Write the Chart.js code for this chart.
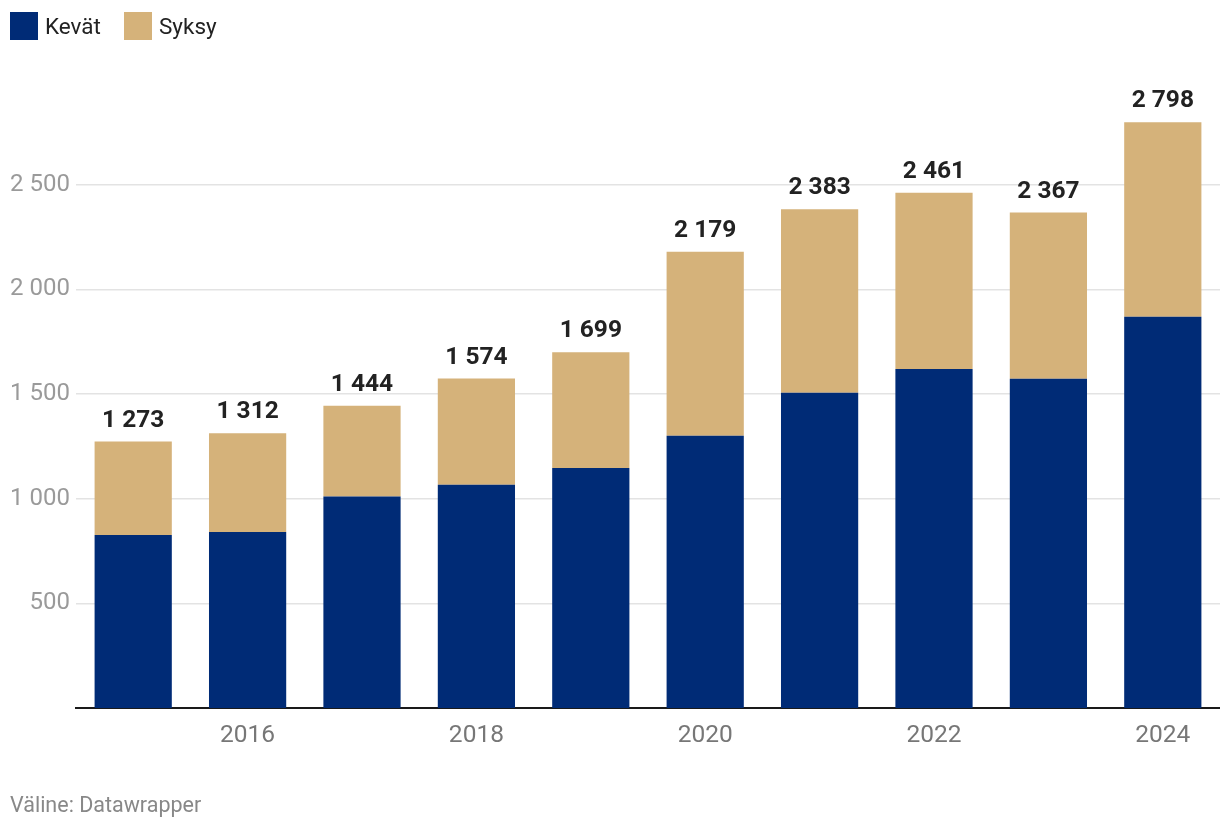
<!DOCTYPE html>
<html lang="fi">
<head>
<meta charset="utf-8">
<script src="https://cdn.jsdelivr.net/npm/chart.js@4"></script>
<style>
  html, body { margin: 0; padding: 0; background: #fff; }
  body { width: 1220px; height: 832px; position: relative; overflow: hidden; font-family: Roboto, sans-serif; }
  #wrap { position: absolute; left: 0; top: 0; width: 1220px; height: 832px; }
  .legend { position: absolute; left: 10px; top: 12px; display: flex; align-items: center; font-size: 22.5px; color: #222; }
  .legend span.box { display: inline-block; width: 28px; height: 28px; margin-right: 7px; }
  .legend span.item { display: flex; align-items: center; margin-right: 23px; }
  .source { position: absolute; left: 10px; top: 792px; font-size: 21.5px; color: #888; }
</style>
</head>
<body>
<div id="wrap"><canvas id="chart" width="1220" height="832"></canvas></div>
<div class="legend">
  <span class="item"><span class="box" style="background:#002b76"></span>Kevät</span>
  <span class="item"><span class="box" style="background:#d5b27a"></span>Syksy</span>
</div>
<div class="source">Väline: Datawrapper</div>
<script>
// vuodet ja arvot luettu kuvasta
const years = ["2015", "2016", "2017", "2018", "2019", "2020", "2021", "2022", "2023", "2024"];
const totals = [1273, 1312, 1444, 1574, 1699, 2179, 2383, 2461, 2367, 2798];
const kevat = [827, 841, 1010, 1066, 1147, 1300, 1506, 1620, 1573, 1869];
const syksy = [446, 471, 434, 508, 552, 879, 877, 841, 794, 929];
const yTicks = [500, 1000, 1500, 2000, 2500];

// välilyönti tuhaterottimena
function fmt(v) {
  return String(v).replace(/\B(?=(\d{3})+(?!\d))/g, " ");
}

// summat pylväiden yläpuolelle
const totalLabels = {
  id: "totalLabels",
  afterDatasetsDraw(chart) {
    const ctx = chart.ctx;
    const meta = chart.getDatasetMeta(1);
    ctx.save();
    ctx.font = "bold 24.5px Roboto";
    ctx.fillStyle = "#222";
    ctx.textAlign = "center";
    ctx.textBaseline = "alphabetic";
    meta.data.forEach((bar, i) => {
      ctx.fillText(fmt(totals[i]), bar.x, bar.y - 15);
    });
    ctx.restore();
  },
};

const data = {
  labels: years,
  datasets: [
    { label: "Kevät", data: kevat, backgroundColor: "#002b76" },
    { label: "Syksy", data: syksy, backgroundColor: "#d5b27a" },
  ],
};

const config = {
  type: "bar",
  data,
  options: {
    responsive: false,
    animation: false,
    layout: { padding: { top: 80, right: 0, left: 0, bottom: 0 } },
    datasets: {
      bar: { categoryPercentage: 1, barPercentage: 0.675 },
    },
    plugins: {
      legend: { display: false },
      tooltip: { enabled: false },
    },
    scales: {
      x: {
        stacked: true,
        grid: { display: false, drawTicks: false },
        border: { display: true, color: "#1a1a1a", width: 2 },
        ticks: {
          autoSkip: false,
          maxRotation: 0,
          padding: 13,
          color: "#777",
          font: { family: "Roboto", size: 24.5 },
          callback: (value, index) => (index % 2 === 1 ? years[index] : ""),
        },
        afterFit: (axis) => {
          axis.height = 124;
        },
      },
      y: {
        stacked: true,
        min: 0,
        max: 3000,
        grid: { color: "#e3e3e3", lineWidth: 1.5, drawTicks: false },
        border: { display: false },
        afterBuildTicks: (axis) => (axis.ticks = yTicks.map((v) => ({ value: v }))),
        ticks: {
          padding: 6,
          color: "#9a9a9a",
          font: { family: "Roboto", size: 24 },
          callback: (value) => fmt(value),
        },
        afterFit: (axis) => {
          axis.width = 76;
        },
      },
    },
  },
  plugins: [totalLabels],
};

const canvas = document.getElementById("chart");
const myChart = new Chart(canvas, config);
</script>
</body>
</html>
